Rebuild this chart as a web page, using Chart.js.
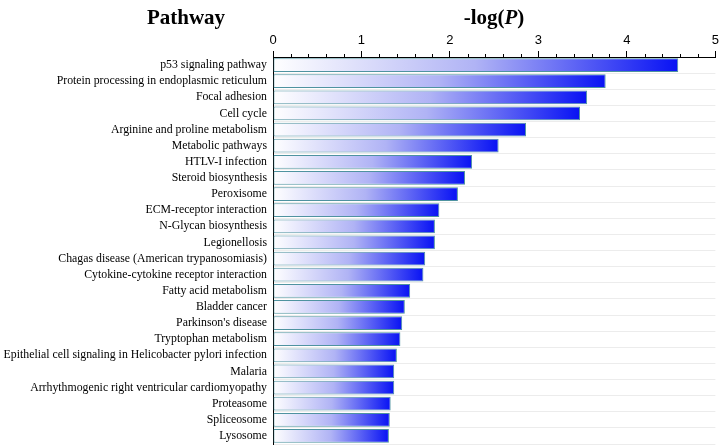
<!DOCTYPE html>
<html>
<head>
<meta charset="utf-8">
<script src="https://cdn.jsdelivr.net/npm/chart.js@4"></script>
<style>
  body { margin: 0; background: #fff; }
  #wrap { position: relative; width: 722px; height: 446px; }
  .head { position: absolute; top: 5px; font-family: 'Liberation Serif', 'Times New Roman', serif; font-weight: bold; font-size: 21px; color: #000; transform: translateX(-50%); white-space: nowrap; }
</style>
</head>
<body>
<div id="wrap">
  <canvas id="pathwayChart" width="722" height="446"></canvas>
  <div class="head" style="left:186px">Pathway</div>
  <div class="head" style="left:494px">-log(<i>P</i>)</div>
</div>
<script>
var pathways = [
    'p53 signaling pathway',
    'Protein processing in endoplasmic reticulum',
    'Focal adhesion',
    'Cell cycle',
    'Arginine and proline metabolism',
    'Metabolic pathways',
    'HTLV-I infection',
    'Steroid biosynthesis',
    'Peroxisome',
    'ECM-receptor interaction',
    'N-Glycan biosynthesis',
    'Legionellosis',
    'Chagas disease (American trypanosomiasis)',
    'Cytokine-cytokine receptor interaction',
    'Fatty acid metabolism',
    'Bladder cancer',
    "Parkinson's disease",
    'Tryptophan metabolism',
    'Epithelial cell signaling in Helicobacter pylori infection',
    'Malaria',
    'Arrhythmogenic right ventricular cardiomyopathy',
    'Proteasome',
    'Spliceosome',
    'Lysosome'
];
var logP = [4.58, 3.76, 3.55, 3.47, 2.86, 2.55, 2.25, 2.17, 2.09, 1.88, 1.83, 1.83,
    1.72, 1.70, 1.55, 1.49, 1.46, 1.44, 1.40, 1.37, 1.37, 1.33, 1.32, 1.31];
var xTicks = [0, 1, 2, 3, 4, 5];

function barGradient(context) {
    var chart = context.chart;
    if (!chart.chartArea || !chart.scales.x) return '#3040f0';
    var xs = chart.scales.x;
    var x0 = xs.getPixelForValue(0);
    var x1 = xs.getPixelForValue(context.raw);
    var g = chart.ctx.createLinearGradient(x0, 0, x1, 0);
    g.addColorStop(0, '#ffffff');
    g.addColorStop(0.5, '#b0b3f5');
    g.addColorStop(1, '#0812f4');
    return g;
}

// small ticks every 0.2 between the labelled ones
var minorTicks = {
    id: 'minorTicks',
    afterDraw: function(chart) {
        var xs = chart.scales.x;
        var ctx = chart.ctx;
        var top = chart.chartArea.top;
        ctx.save();
        ctx.strokeStyle = '#000';
        ctx.lineWidth = 1;
        for (var i = 0; i <= 25; i++) {
            if (i % 5 === 0) continue;
            var x = Math.round(xs.getPixelForValue(i / 5)) + 0.5;
            ctx.beginPath();
            ctx.moveTo(x, top - 3);
            ctx.lineTo(x, top);
            ctx.stroke();
        }
        ctx.restore();
    }
};

var ctx = document.getElementById('pathwayChart').getContext('2d');
var myChart = new Chart(ctx, {
    type: 'bar',
    data: {
        labels: pathways,
        datasets: [{
            data: logP,
            backgroundColor: barGradient,
            borderColor: 'rgba(60,135,150,0.9)',
            borderWidth: 1,
            borderSkipped: false,
            barPercentage: 0.86,
            categoryPercentage: 1
        }]
    },
    options: {
        indexAxis: 'y',
        responsive: false,
        animation: false,
        layout: { padding: { top: 30, right: 6, bottom: 2, left: 0 } },
        plugins: {
            legend: { display: false },
            tooltip: { enabled: false }
        },
        scales: {
            x: {
                position: 'top',
                min: 0,
                max: 5,
                afterBuildTicks: function(scale) {
                    scale.ticks = xTicks.map(function(v) { return { value: v }; });
                },
                afterFit: function(scale) { scale.height = 27; },
                grid: {
                    drawOnChartArea: false,
                    tickLength: 6,
                    color: '#000'
                },
                border: { color: '#000', width: 1 },
                ticks: {
                    padding: 3,
                    color: '#000',
                    font: { family: "'Liberation Sans', Arial, sans-serif", size: 13 }
                }
            },
            y: {
                afterFit: function(scale) {
                    scale.width = 273;
                    scale.paddingTop = 0;
                    scale.paddingBottom = 0;
                },
                grid: {
                    offset: true,
                    drawTicks: false,
                    color: '#ececec'
                },
                border: { color: '#000', width: 1 },
                ticks: {
                    padding: 6,
                    color: '#000',
                    autoSkip: false,
                    font: { family: "'Liberation Serif', 'Times New Roman', serif", size: 11.8 }
                }
            }
        }
    },
    plugins: [minorTicks]
});
</script>
</body>
</html>
